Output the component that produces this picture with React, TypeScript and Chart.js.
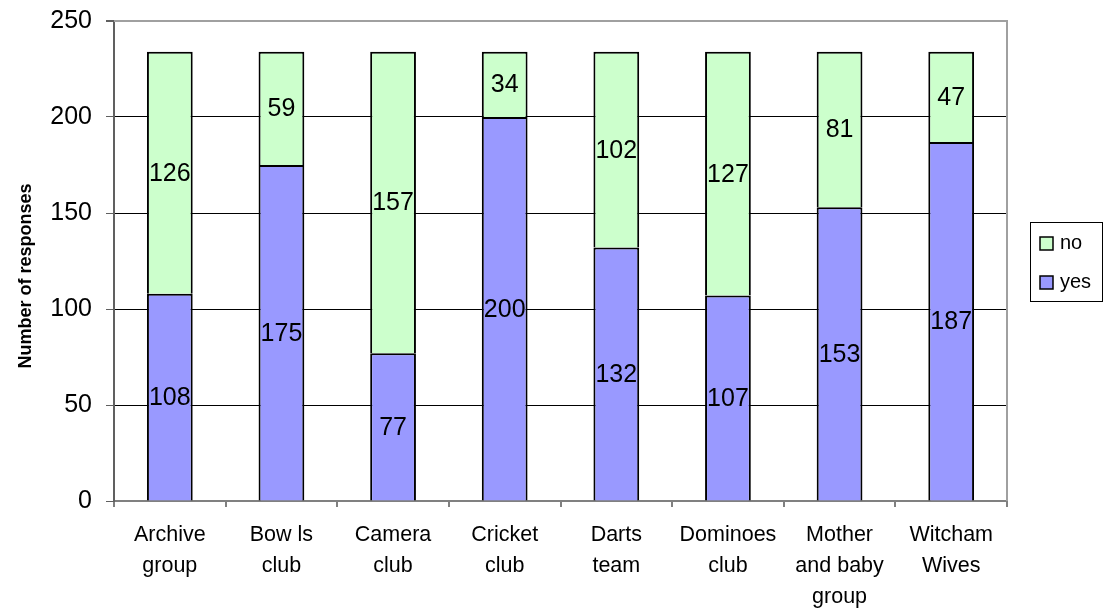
import React, { useEffect, useRef } from "react";
import { Chart, registerables } from "chart.js";

Chart.register(...registerables);

const categories: string[][] = [
  ["Archive", "group"],
  ["Bow ls", "club"],
  ["Camera", "club"],
  ["Cricket", "club"],
  ["Darts", "team"],
  ["Dominoes", "club"],
  ["Mother", "and baby", "group"],
  ["Witcham", "Wives"],
];
const yesValues = [108, 175, 77, 200, 132, 107, 153, 187];
const noValues = [126, 59, 157, 34, 102, 127, 81, 47];
const yTicks = [0, 50, 100, 150, 200, 250];
const yTitle = "Number of responses";
const seriesNames = ["yes", "no"];

const FONT = "'Liberation Sans', Arial, sans-serif";
const YES_COLOR = "#9999FF";
const NO_COLOR = "#CCFFCC";

const extrasPlugin = {
  id: "extras",
  afterDatasetsDraw(chart: any) {
    const ctx = chart.ctx;
    const area = chart.chartArea;
    ctx.save();
    // plot border (top/right)
    ctx.strokeStyle = "#a0a0a0";
    ctx.lineWidth = 2;
    ctx.beginPath();
    ctx.moveTo(area.left, area.top);
    ctx.lineTo(area.right, area.top);
    ctx.lineTo(area.right, area.bottom);
    ctx.stroke();

    // data labels
    ctx.fillStyle = "#000";
    ctx.font = `25px ${FONT}`;
    ctx.textAlign = "center";
    ctx.textBaseline = "middle";
    chart.data.datasets.forEach((ds: any, di: number) => {
      const meta = chart.getDatasetMeta(di);
      meta.data.forEach((bar: any, i: number) => {
        const y = (bar.y + bar.base) / 2;
        ctx.fillText(String(ds.data[i]), bar.x, y + 1);
      });
    });

    // y axis title
    ctx.save();
    ctx.translate(26, 276);
    ctx.rotate(-Math.PI / 2);
    ctx.font = `bold 18px ${FONT}`;
    ctx.textAlign = "center";
    ctx.textBaseline = "middle";
    ctx.fillText(yTitle, 0, 0);
    ctx.restore();

    // legend
    ctx.strokeStyle = "#000";
    ctx.lineWidth = 1;
    ctx.strokeRect(1030.5, 222.5, 72, 79);
    const entries = [
      { label: seriesNames[1], color: NO_COLOR, y: 243 },
      { label: seriesNames[0], color: YES_COLOR, y: 282 },
    ];
    ctx.font = `20px ${FONT}`;
    ctx.textAlign = "left";
    ctx.textBaseline = "middle";
    entries.forEach((e) => {
      ctx.fillStyle = e.color;
      ctx.fillRect(1040, e.y - 6, 13, 13);
      ctx.strokeStyle = "#000";
      ctx.lineWidth = 1.5;
      ctx.strokeRect(1040, e.y - 6, 13, 13);
      ctx.fillStyle = "#000";
      ctx.fillText(e.label, 1060, e.y);
    });
    ctx.restore();
  },
};

export default function App() {
  const ref = useRef<HTMLCanvasElement>(null);
  useEffect(() => {
    if (!ref.current) return;
    const chart = new Chart(ref.current, {
      type: "bar",
      data: {
        labels: categories,
        datasets: [
          {
            label: seriesNames[0],
            data: yesValues,
            backgroundColor: YES_COLOR,
            borderColor: "#000",
            borderWidth: 2,
            borderSkipped: "start",
          },
          {
            label: seriesNames[1],
            data: noValues,
            backgroundColor: NO_COLOR,
            borderColor: "#000",
            borderWidth: 2,
            borderSkipped: "start",
          },
        ],
      },
      options: {
        animation: false,
        responsive: false,
        maintainAspectRatio: false,
        datasets: { bar: { categoryPercentage: 1, barPercentage: 0.41 } },
        layout: { padding: { top: 21, right: 97, bottom: 0, left: 0 } },
        plugins: { legend: { display: false }, tooltip: { enabled: false } },
        scales: {
          x: {
            stacked: true,
            border: { color: "#808080", width: 2 },
            grid: {
              offset: true,
              drawOnChartArea: false,
              drawTicks: true,
              tickLength: 6,
              color: "#808080",
              lineWidth: 2,
            },
            ticks: {
              color: "#000",
              font: { family: FONT, size: 21.5, lineHeight: 1.45 },
              padding: 12,
              maxRotation: 0,
              autoSkip: false,
            },
            afterFit: (s: any) => {
              s.height = 109;
              s.paddingLeft = 0;
              s.paddingRight = 0;
            },
          },
          y: {
            stacked: true,
            min: 0,
            max: 250,
            border: { color: "#606060", width: 2 },
            grid: {
              color: (c: any) => (c.tick && c.tick.value === 250 ? "#a0a0a0" : "#000"),
              lineWidth: (c: any) => (c.tick && c.tick.value === 250 ? 2 : 1),
              drawTicks: true,
              tickLength: 8,
              tickColor: "#606060",
            },
            afterBuildTicks: (s: any) => {
              s.ticks = yTicks.map((v) => ({ value: v }));
            },
            ticks: {
              color: "#000",
              font: { family: FONT, size: 25 },
              padding: 14,
            },
            afterFit: (s: any) => {
              s.width = 114;
              s.paddingTop = 0;
              s.paddingBottom = 0;
            },
          },
        },
      },
      plugins: [extrasPlugin],
    });
    return () => chart.destroy();
  }, []);
  return (
    <div style={{ position: "fixed", left: 0, top: 0, width: 1104, height: 610, background: "#fff" }}>
      <canvas ref={ref} width={1104} height={610} style={{ width: 1104, height: 610 }} />
    </div>
  );
}
